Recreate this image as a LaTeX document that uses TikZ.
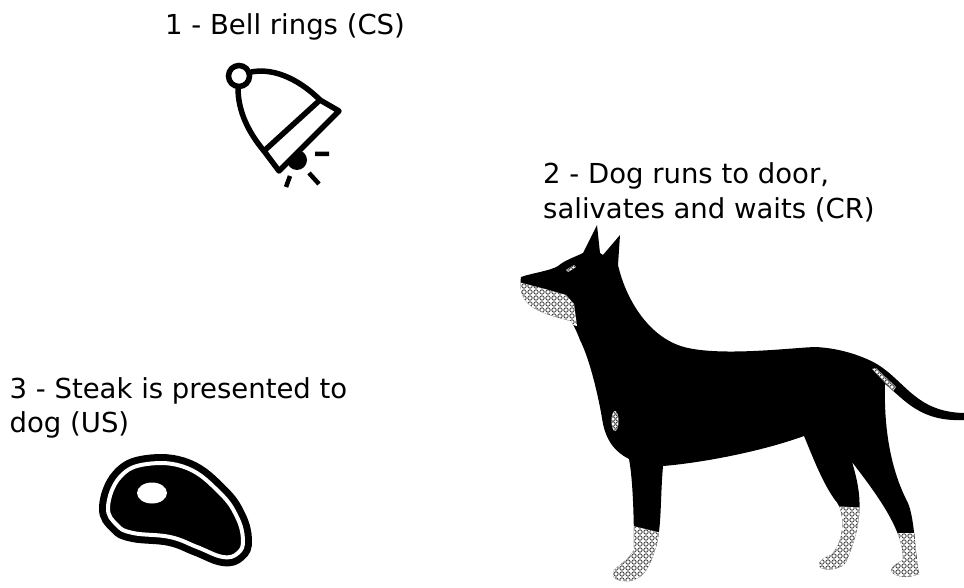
\documentclass[tikz,border=0pt]{standalone}
\usepackage{fontspec}
\setmainfont{DejaVu Sans}
\usepackage{tikz}

\newcommand{\captionfont}{\fontsize{27.5pt}{34pt}\selectfont}

% outline of the dog, used for filling and for clipping the spots
\newcommand{\dogshape}{(521,277) .. controls (532,273) and (550,271) .. (558,266)
  .. controls (565,260) and (575,257) .. (583,253) -- (597,225) -- (600,253) -- (603,255)
  -- (620,235) -- (618,265)
  .. controls (626,300) and (650,340) .. (688,348)
  .. controls (725,356) and (790,348) .. (815,347)
  .. controls (840,348) and (862,356) .. (875,363)
  .. controls (905,380) and (915,412) .. (964,413) -- (964,420)
  .. controls (920,422) and (905,400) .. (885,384)
  .. controls (884,420) and (888,465) .. (908,503)
  .. controls (915,520) and (915,555) .. (919,574)
  .. controls (910,578) and (895,578) .. (891,571)
  .. controls (891,566) and (898,563) .. (903,560)
  .. controls (904,530) and (875,492) .. (852,462)
  .. controls (862,495) and (864,520) .. (846,562)
  .. controls (842,570) and (822,572) .. (819,566)
  .. controls (818,560) and (826,557) .. (831,555)
  .. controls (846,540) and (845,510) .. (835,500)
  .. controls (822,482) and (812,455) .. (804,436)
  .. controls (760,452) and (700,463) .. (663,466)
  .. controls (660,500) and (662,530) .. (655,550)
  .. controls (650,565) and (645,578) .. (630,581)
  .. controls (618,582) and (611,578) .. (613,572)
  .. controls (616,566) and (627,562) .. (634,550)
  .. controls (634,520) and (633,480) .. (629,459)
  .. controls (615,452) and (605,440) .. (602,418)
  .. controls (598,395) and (590,360) .. (580,340)
  .. controls (577,332) and (574,326) .. (571,321)
  .. controls (555,317) and (532,311) .. (525,300)
  .. controls (520,293) and (520,284) .. (521,277) -- cycle}

% white spots with a grid of small rings
\newcommand{\dogspots}[3]{%
  \begin{scope}
    \clip \dogshape;
    \clip #1;
    \fill[white] \dogshape;
    \foreach \sx in {#2}
      \foreach \sy in {#3}
        \draw[spot ring] (\sx,\sy) circle (2.2pt);
  \end{scope}}

\newcommand{\steakline}{plot[smooth cycle, tension=0.7] coordinates {(108,507) (120,477) (147,464) (187,468) (220,493) (237,517) (243,540) (238,553) (223,557) (197,547) (170,537) (133,533) (117,525)}}

\begin{document}
\begin{tikzpicture}[x=1pt, y=-1pt,
    caption/.style={font=\captionfont, anchor=base west, inner sep=0pt},
    icon line/.style={line width=5.5pt},
    spot ring/.style={black!75, line width=0.8pt}]
    \useasboundingbox (0,0) rectangle (964,588);

    \node[caption] (cs) at (165,34.5) {1 - Bell rings (CS)};
    \node[caption] (cr top) at (543,183.5) {2 - Dog runs to door,};
    \node[caption] (cr bottom) at (543,218.5) {salivates and waits (CR)};
    \node[caption] (us top) at (9.5,398.5) {3 - Steak is presented to};
    \node[caption] (us bottom) at (9.5,432) {dog (US)};

    % bell
    \draw[icon line] (238,88) .. controls (238,112) and (249,133) .. (264,151);
    \draw[icon line] (251,72) .. controls (277,67) and (303,83) .. (320,100);
    \draw[icon line] (239,76) circle (10.5pt);
    \fill (297,160) circle (10pt);
    \draw[icon line, fill=white, line join=round] (264,151) -- (320,100) -- (339,111) -- (279,171) -- cycle;
    \draw[line width=4.5pt] (315,154) -- (329,154) (309,173) -- (319,184) (290,176) -- (286,187);

    % steak
    \fill \steakline;
    \draw[line width=18pt] \steakline;
    \draw[white, line width=4pt] \steakline;
    \fill[white] (152,493) ellipse [x radius=15pt, y radius=10.5pt];

    % dog
    \fill \dogshape;
    \dogspots{(518,282) -- (545,289) -- (566,295) -- (574,304) -- (577,326) -- (560,322) -- (516,308) -- cycle}{518,524,...,578}{280,286,...,326}
    \dogspots{(566,270) -- (574,265) -- (576,267) -- (568,272) -- cycle}{566,571,576}{265,270}
    \dogspots{(615,421) ellipse [x radius=3.5pt, y radius=10pt]}{613,618}{409,414,...,434}
    \dogspots{(872,369) -- (876,368) -- (896,387) -- (893,391) -- cycle}{872,877,...,897}{367,372,...,392}
    \dogspots{(600,518) -- (670,535) -- (670,590) -- (600,590) -- cycle}{604,610,...,670}{514,520,...,586}
    \dogspots{(808,505) -- (870,508) -- (870,580) -- (808,580) -- cycle}{810,816,...,870}{502,508,...,574}
    \dogspots{(885,533) -- (925,533) -- (925,580) -- (885,580) -- cycle}{886,892,...,922}{530,536,...,578}
\end{tikzpicture}
\end{document}
